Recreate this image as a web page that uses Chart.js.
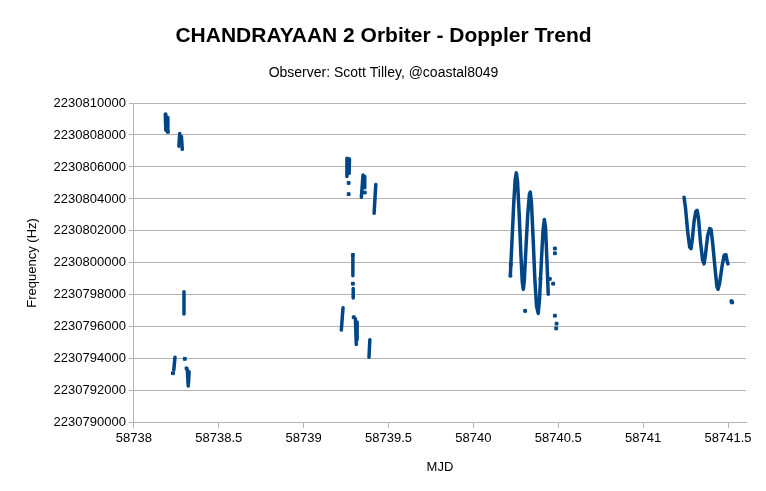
<!DOCTYPE html>
<html>
<head>
<meta charset="utf-8">
<script src="https://cdn.jsdelivr.net/npm/chart.js@4"></script>
<style>
  body { margin: 0; background: #fff; }
  #wrap { width: 766px; height: 491px; }
</style>
</head>
<body>
<div id="wrap"><canvas id="c"></canvas></div>
<script>
const BASE = 2230000000;
const xTicks = [58738, 58738.5, 58739, 58739.5, 58740, 58740.5, 58741, 58741.5];

// sweeps: [MJD, Hz offset above 2230000000]
const wave3 = [[58740.218,799300],[58740.228,801500],[58740.238,803800],[58740.246,805200],[58740.253,805630],[58740.26,805100],[58740.27,803000],[58740.28,800500],[58740.288,798800],[58740.294,798350],[58740.30,798900],[58740.31,801000],[58740.32,803000],[58740.33,804300],[58740.335,804430],[58740.342,803800],[58740.352,801500],[58740.362,799000],[58740.372,797300],[58740.382,796840],[58740.39,797800],[58740.40,800000],[58740.41,802000],[58740.418,802720],[58740.425,802200],[58740.433,800200],[58740.441,798040]];
const wave4 = [[58741.241,804110],[58741.25,803400],[58741.262,802000],[58741.274,801000],[58741.282,800890],[58741.29,801500],[58741.30,802600],[58741.31,803200],[58741.318,803290],[58741.326,802800],[58741.338,801300],[58741.35,800200],[58741.359,799940],[58741.367,800500],[58741.38,801700],[58741.392,802150],[58741.40,802100],[58741.41,801200],[58741.425,799500],[58741.435,798500],[58741.441,798350],[58741.45,798700],[58741.465,799800],[58741.478,800500],[58741.488,800510],[58741.495,800100],[58741.5,799940]];
const streaks = [
  [[58738.185,809300],[58738.188,808300]], [[58738.198,809100],[58738.20,808200]],
  [[58738.27,808100],[58738.265,807300]], [[58738.28,807900],[58738.285,807100]],
  [[58738.295,798200],[58738.295,796800]],
  [[58738.235,793300],[58738.242,794100]],
  [[58738.315,793300],[58738.32,792300]], [[58738.325,793200],[58738.322,792500]],
  [[58739.255,806550],[58739.255,805400]], [[58739.27,806500],[58739.268,805600]],
  [[58739.34,804100],[58739.35,805500]], [[58739.358,805400],[58739.36,804700]],
  [[58739.415,803100],[58739.425,804900]],
  [[58739.29,800400],[58739.29,799200]], [[58739.292,798400],[58739.292,797800]],
  [[58739.222,795800],[58739.232,797200]],
  [[58739.305,796500],[58739.31,794900]], [[58739.315,796300],[58739.315,795200]],
  [[58739.385,794100],[58739.39,795200]]
];
const dots = [[58738.2,808200],[58738.3,794000],[58738.31,793400],[58738.23,793100],[58739.265,805000],[58739.265,804300],[58739.29,800500],[58739.29,798700],[58739.295,796600],[58739.36,804400],[58740.218,799200],[58740.22,799900],[58740.48,800900],[58740.48,800600],[58740.47,798700],[58740.45,799000],[58740.48,796700],[58740.49,796200],[58740.488,795900],[58740.305,797000],[58740.395,799000],[58741.524,797530],[58741.52,797600]];

const blue = "#004586";
const toPts = arr => arr.map(p => ({ x: p[0], y: BASE + p[1] }));
const lineSet = arr => ({ data: toPts(arr), showLine: true, borderColor: blue, borderWidth: 3.5, pointRadius: 0, borderCapStyle: "round", borderJoinStyle: "round" });

const datasets = [lineSet(wave3), lineSet(wave4)];
streaks.forEach(s => datasets.push(lineSet(s)));
datasets.push({ data: toPts(dots), showLine: false, pointRadius: 2, pointStyle: "rect", backgroundColor: blue, borderColor: blue });

const font = "'Liberation Sans', Arial, sans-serif";
Chart.defaults.font.family = font;
Chart.defaults.color = "#000";

new Chart(document.getElementById("c"), {
  type: "scatter",
  data: { datasets: datasets },
  options: {
    responsive: true,
    maintainAspectRatio: false,
    animation: false,
    layout: { padding: { left: 21, right: 20, top: 10, bottom: 12 } },
    plugins: {
      legend: { display: false },
      tooltip: { enabled: false },
      title: { display: true, text: "CHANDRAYAAN 2 Orbiter - Doppler Trend", font: { size: 21, weight: "bold" }, padding: { top: 14, bottom: 16 } },
      subtitle: { display: true, text: "Observer: Scott Tilley, @coastal8049", font: { size: 14 }, padding: { bottom: 21 } }
    },
    scales: {
      x: {
        min: 58738, max: 58741.606,
        afterBuildTicks: ax => { ax.ticks = xTicks.map(v => ({ value: v })); },
        ticks: { font: { size: 13 }, autoSkip: false, maxRotation: 0, callback: v => String(v) },
        grid: { drawOnChartArea: false, color: "#b3b3b3", tickLength: 5 },
        border: { color: "#b3b3b3" },
        title: { display: true, text: "MJD", font: { size: 13 }, padding: { top: 10 } }
      },
      y: {
        min: 2230790000, max: 2230810000,
        ticks: { stepSize: 2000, font: { size: 13 }, callback: v => String(v) },
        grid: { color: "#b3b3b3", tickLength: 5 },
        border: { color: "#b3b3b3" },
        title: { display: true, text: "Frequency (Hz)", font: { size: 13 }, padding: { bottom: 10 } }
      }
    }
  }
});
</script>
</body>
</html>
